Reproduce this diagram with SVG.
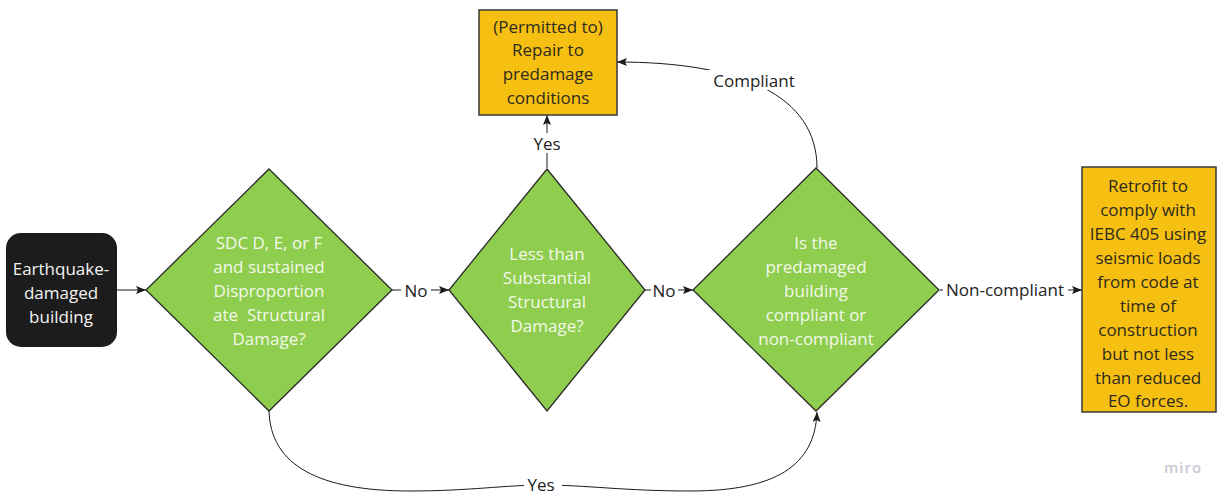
<svg xmlns="http://www.w3.org/2000/svg" width="1217" height="495" viewBox="0 0 1217 495">
  <defs>
    <marker id="arrow" viewBox="0 0 10 8" refX="10" refY="4" markerWidth="10" markerHeight="8" markerUnits="userSpaceOnUse" orient="auto">
      <path d="M0,0 L10,4 L0,8 L2,4 Z" fill="#1a1a1a"/>
    </marker>
    <style>
      text { font-family: "Open Sans", "Noto Sans", "Liberation Sans", sans-serif; font-size: 17px; text-anchor: middle; dominant-baseline: central; }
      .start { fill: #1c1c1c; stroke: none; }
      .start-text { fill: #f4f4f4; }
      .decision { fill: #8ecd4e; stroke: #2a2a2a; stroke-width: 1.3; }
      .decision-text { fill: #f3f9ea; }
      .outcome { fill: #f5c012; stroke: #3a3a3a; stroke-width: 1.5; }
      .outcome-text { fill: #2e2a1e; }
      .edge { fill: none; stroke: #1a1a1a; stroke-width: 1; }
      .label { fill: #222; }
      .label-bg { fill: #ffffff; }
      .brand { font-size: 15px; fill: #c9c9d2; letter-spacing: 1px; font-weight: 600; }
    </style>
  </defs>

  <rect width="1217" height="495" fill="#ffffff"/>

  <!-- connectors -->
  <g id="connectors">
    <line class="edge" x1="117" y1="290" x2="146" y2="290" marker-end="url(#arrow)"/>

    <line class="edge" x1="392" y1="290" x2="449" y2="290" marker-end="url(#arrow)"/>
    <rect class="label-bg" x="401" y="280" width="30" height="20"/>
    <text class="label" x="416" y="290">No</text>

    <line class="edge" x1="645" y1="290" x2="693" y2="290" marker-end="url(#arrow)"/>
    <rect class="label-bg" x="651" y="280" width="27" height="20"/>
    <text class="label" x="664" y="290">No</text>

    <line class="edge" x1="940" y1="290" x2="1082" y2="290" marker-end="url(#arrow)"/>
    <rect class="label-bg" x="943" y="280" width="125" height="20"/>
    <text class="label" x="1005" y="289">Non-compliant</text>

    <line class="edge" x1="547" y1="168" x2="547" y2="115" marker-end="url(#arrow)"/>
    <rect class="label-bg" x="531" y="133" width="32" height="20"/>
    <text class="label" x="547" y="143">Yes</text>

    <path class="edge" d="M817,168 C817,95 740,62 617,62" marker-end="url(#arrow)"/>
    <rect class="label-bg" x="708" y="70" width="92" height="20"/>
    <text class="label" x="754" y="80">Compliant</text>

    <path class="edge" d="M269,410 C270,466 320,491 410,491 C470,491 505,485 543,485 C585,485 625,491 690,491 C775,491 815,466 817,412" marker-end="url(#arrow)"/>
    <rect class="label-bg" x="524" y="476" width="38" height="18"/>
    <text class="label" x="541" y="484">Yes</text>
  </g>

  <!-- start node -->
  <g id="node-start">
    <rect class="start" x="6" y="233" width="111" height="114" rx="15" ry="15"/>
    <text class="start-text" x="61" y="268">Earthquake-</text>
    <text class="start-text" x="61" y="292">damaged</text>
    <text class="start-text" x="61" y="316">building</text>
  </g>

  <!-- decision: SDC / disproportionate damage -->
  <g id="node-sdc">
    <polygon class="decision" points="269,169 392,290 269,411 146,290"/>
    <text class="decision-text" x="269" y="242">SDC D, E, or F</text>
    <text class="decision-text" x="269" y="266">and sustained</text>
    <text class="decision-text" x="269" y="290">Disproportion</text>
    <text class="decision-text" x="269" y="314" xml:space="preserve">ate  Structural</text>
    <text class="decision-text" x="269" y="338">Damage?</text>
  </g>

  <!-- decision: less than substantial damage -->
  <g id="node-substantial">
    <polygon class="decision" points="547,169 645,290 547,411 449,290"/>
    <text class="decision-text" x="547" y="253">Less than</text>
    <text class="decision-text" x="547" y="277">Substantial</text>
    <text class="decision-text" x="547" y="301">Structural</text>
    <text class="decision-text" x="547" y="325">Damage?</text>
  </g>

  <!-- decision: predamaged compliance -->
  <g id="node-compliance">
    <polygon class="decision" points="816,168 939,290 816,411 693,290"/>
    <text class="decision-text" x="816" y="242">Is the</text>
    <text class="decision-text" x="816" y="266">predamaged</text>
    <text class="decision-text" x="816" y="290">building</text>
    <text class="decision-text" x="816" y="314">compliant or</text>
    <text class="decision-text" x="816" y="338">non-compliant</text>
  </g>

  <!-- outcome: repair -->
  <g id="node-repair">
    <rect class="outcome" x="479" y="10" width="138" height="105"/>
    <text class="outcome-text" x="548" y="26">(Permitted to)</text>
    <text class="outcome-text" x="548" y="49">Repair to</text>
    <text class="outcome-text" x="548" y="73">predamage</text>
    <text class="outcome-text" x="548" y="97">conditions</text>
  </g>

  <!-- outcome: retrofit -->
  <g id="node-retrofit">
    <rect class="outcome" x="1082" y="167" width="134" height="245"/>
    <text class="outcome-text" x="1148" y="185">Retrofit to</text>
    <text class="outcome-text" x="1148" y="209">comply with</text>
    <text class="outcome-text" x="1148" y="233">IEBC 405 using</text>
    <text class="outcome-text" x="1148" y="257">seismic loads</text>
    <text class="outcome-text" x="1148" y="281">from code at</text>
    <text class="outcome-text" x="1148" y="305">time of</text>
    <text class="outcome-text" x="1148" y="329">construction</text>
    <text class="outcome-text" x="1148" y="353">but not less</text>
    <text class="outcome-text" x="1148" y="377">than reduced</text>
    <text class="outcome-text" x="1148" y="400">EO forces.</text>
  </g>

  <text class="brand" x="1183" y="467">miro</text>
</svg>
